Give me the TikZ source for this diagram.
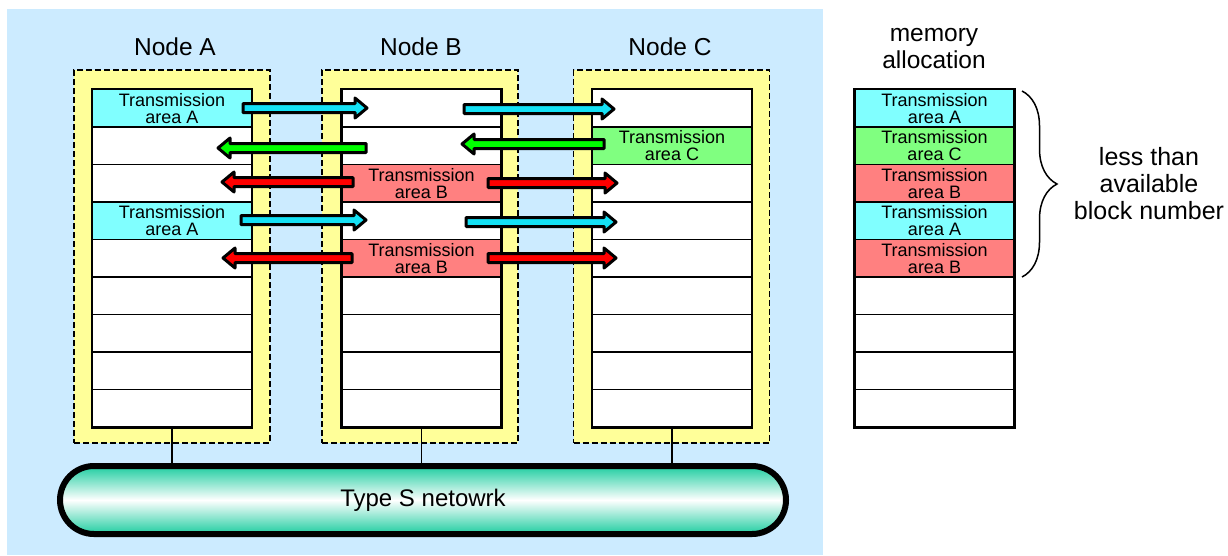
\documentclass[tikz,border=0pt]{standalone}
\usepackage{fontspec}
\setmainfont{Liberation Sans}
\usetikzlibrary{decorations.pathreplacing,calc}
\definecolor{bgblue}{RGB}{204,235,255}
\definecolor{nodeyel}{RGB}{255,255,153}
\definecolor{cellA}{RGB}{128,255,255}
\definecolor{cellB}{RGB}{255,128,128}
\definecolor{cellC}{RGB}{128,255,128}
\definecolor{arrA}{RGB}{20,225,245}
\definecolor{arrB}{RGB}{255,0,0}
\definecolor{arrC}{RGB}{0,255,0}
\definecolor{netteal}{RGB}{30,205,160}
\tikzset{
  yelbox/.style={draw=black, fill=nodeyel, dash pattern=on 6pt off 3pt, line width=1.6pt,
    minimum width=196pt, minimum height=373pt, inner sep=0pt},
  cell/.style={draw=black, line width=1.5pt, minimum width=159pt, minimum height=37.5pt,
    inner sep=0pt, align=center, font=\fontsize{18}{17}\selectfont},
  colborder/.style={draw=black, line width=2pt},
  blockarr/.style={draw=black, line width=3pt, line join=round},
  biglabel/.style={font=\fontsize{24.5}{27}\selectfont, align=center, inner sep=0pt},
  tie/.style={draw=black, line width=1.3pt}
}
\newcommand\ArrR[4]{\filldraw[blockarr, fill=#4] (#1,#3-4.5) -- (#2-12,#3-4.5) -- (#2-12,#3-10) -- (#2,#3) -- (#2-12,#3+10) -- (#2-12,#3+4.5) -- (#1,#3+4.5) -- cycle;}
\newcommand\ArrL[4]{\filldraw[blockarr, fill=#4] (#1,#3-4.5) -- (#2+12,#3-4.5) -- (#2+12,#3-10) -- (#2,#3) -- (#2+12,#3+10) -- (#2+12,#3+4.5) -- (#1,#3+4.5) -- cycle;}
\begin{document}
\begin{tikzpicture}[x=1pt,y=-1pt]
\useasboundingbox (0,0) rectangle (1228,555);
% background
\fill[bgblue] (7,9) rectangle (823,555);
% node boxes
\node[yelbox] (nA) at (172,256.5) {};
\node[yelbox] (nB) at (420,256.5) {};
\node[yelbox] (nC) at (671.5,256.5) {};
\node[biglabel] (lA) at (175,47) {Node A};
\node[biglabel] (lB) at (421,47) {Node B};
\node[biglabel] (lC) at (670,47) {Node C};
% columns
\foreach \c/\x in {A/172,B/421.5,C/672,M/934.5}{
  \foreach \i in {1,...,9}{
    \node[cell, fill=white] (\c\i) at (\x,70.75+37.5*\i) {};
  }
}
% coloured cells
\node[cell, fill=cellA] (A1t) at (A1) {Transmission\\area A};
\node[cell, fill=cellA] (A4t) at (A4) {Transmission\\area A};
\node[cell, fill=cellB] (B3t) at (B3) {Transmission\\area B};
\node[cell, fill=cellB] (B5t) at (B5) {Transmission\\area B};
\node[cell, fill=cellC] (C2t) at (C2) {Transmission\\area C};
\node[cell, fill=cellA] (M1t) at (M1) {Transmission\\area A};
\node[cell, fill=cellC] (M2t) at (M2) {Transmission\\area C};
\node[cell, fill=cellB] (M3t) at (M3) {Transmission\\area B};
\node[cell, fill=cellA] (M4t) at (M4) {Transmission\\area A};
\node[cell, fill=cellB] (M5t) at (M5) {Transmission\\area B};
\foreach \c in {A,B,C,M}{
  \draw[colborder] (\c1.north west) rectangle (\c9.south east);
}
% arrows
\ArrR{243}{367}{108}{arrA}
\ArrR{464}{614}{109}{arrA}
\ArrL{366}{218}{148}{arrC}
\ArrL{604}{462}{144}{arrC}
\ArrL{353}{222}{182}{arrB}
\ArrR{488}{617}{183}{arrB}
\ArrR{241}{366}{220}{arrA}
\ArrR{466}{616}{222}{arrA}
\ArrL{352}{223}{258}{arrB}
\ArrR{488}{616}{258}{arrB}
% network
\node[draw=black, line width=6pt, rounded corners=34pt, minimum width=726pt, minimum height=68pt,
  top color=netteal, bottom color=netteal, middle color=white,
  font=\fontsize{24}{27}\selectfont] (net) at (423,500) {Type S netowrk};
\draw[tie] (A9.south) -- (A9.south |- net.north);
\draw[tie] (B9.south) -- (B9.south |- net.north);
\draw[tie] (C9.south) -- (C9.south |- net.north);
% memory allocation
\node[biglabel] (mem) at (934,49) {memory\\allocation};
\coordinate (bt) at (1022,91);
\coordinate (bb) at (1022,277);
\draw[line width=1.5pt, decorate, decoration={brace, amplitude=35pt}] (bt) -- (bb);
\node[biglabel, font=\fontsize{25}{27}\selectfont] (lt) at (1149,184) {less than\\available\\block number};
\end{tikzpicture}
\end{document}
